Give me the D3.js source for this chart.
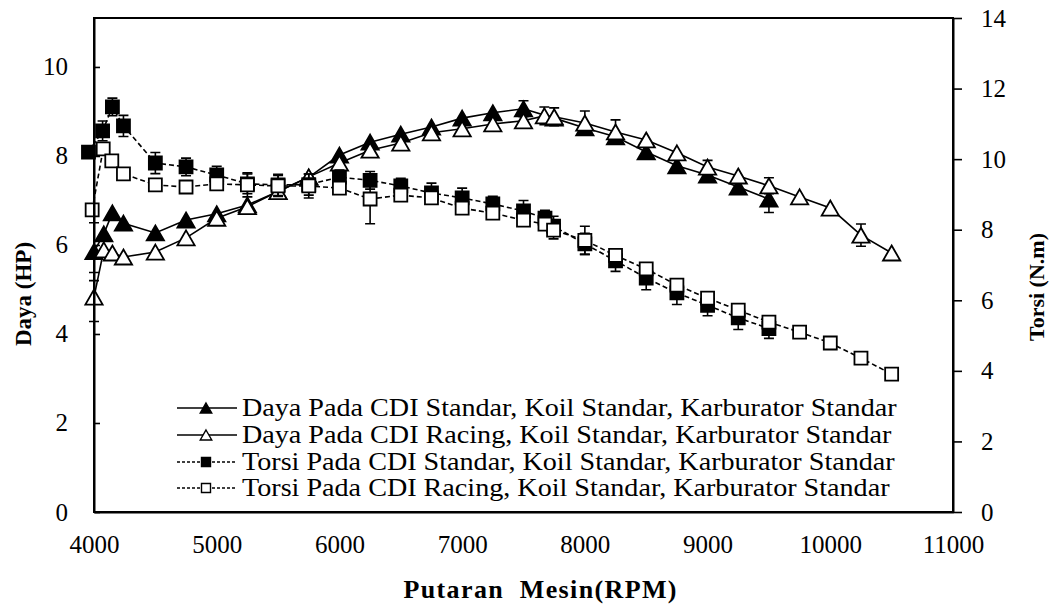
<!DOCTYPE html>
<html>
<head>
<meta charset="utf-8">
<script src="https://cdn.jsdelivr.net/npm/d3@7"></script>
<style>
  body { margin: 0; background: #fff; }
  text { font-family: "Liberation Serif", "Times New Roman", serif; fill: #000; }
</style>
</head>
<body>
<div id="chart"></div>
<script>
// Data
var xTicks = [4000, 5000, 6000, 7000, 8000, 9000, 10000, 11000]
var dayaTicks = [0, 2, 4, 6, 8, 10]
var torsiTicks = [0, 2, 4, 6, 8, 10, 12, 14]

// Daya - CDI standar (filled triangles), HP
var rpmDayaStd = [4000, 4080, 4150, 4240, 4500, 4750, 5000, 5250, 5500, 5750, 6000, 6250, 6500, 6750, 7000, 7250, 7500, 7750, 8000, 8250, 8500, 8750, 9000, 9250, 9500]
var dayaStd = [5.85, 6.25, 6.72, 6.49, 6.27, 6.56, 6.7, 6.9, 7.2, 7.52, 8.02, 8.31, 8.49, 8.65, 8.85, 8.97, 9.06, 8.85, 8.63, 8.43, 8.09, 7.78, 7.57, 7.3, 7.03]
var errDayaStd = [0.65, 0, 0, 0, 0, 0, 0, 0, 0, 0, 0, 0, 0, 0, 0, 0, 0.18, 0, 0, 0, 0, 0, 0, 0, 0.3]

// Daya - CDI racing (open triangles), HP
var rpmDayaRac = [4000, 4080, 4150, 4240, 4500, 4750, 5000, 5250, 5500, 5750, 6000, 6250, 6500, 6750, 7000, 7250, 7500, 7670, 7750, 8000, 8250, 8500, 8750, 9000, 9250, 9500, 9750, 10000, 10250, 10500]
var dayaRac = [4.83, 5.89, 5.82, 5.73, 5.84, 6.16, 6.6, 6.86, 7.2, 7.53, 7.84, 8.13, 8.29, 8.52, 8.61, 8.72, 8.79, 8.9, 8.88, 8.74, 8.54, 8.36, 8.07, 7.75, 7.55, 7.33, 7.08, 6.83, 6.22, 5.82]
var errDayaRac = [0.55, 0, 0, 0, 0, 0, 0, 0, 0, 0, 0, 0, 0, 0, 0, 0, 0, 0.2, 0.2, 0.27, 0.27, 0, 0, 0.15, 0, 0.18, 0, 0, 0.25, 0]

// Torsi - CDI standar (filled squares), N.m
var rpmTorsiStd = [3955, 4070, 4150, 4240, 4500, 4750, 5000, 5250, 5500, 5750, 6000, 6250, 6500, 6750, 7000, 7250, 7500, 7675, 7745, 8000, 8250, 8500, 8750, 9000, 9250, 9500]
var torsiStd = [10.2, 10.8, 11.48, 10.94, 9.89, 9.78, 9.55, 9.3, 9.27, 9.28, 9.49, 9.4, 9.24, 9.04, 8.9, 8.73, 8.53, 8.33, 8.1, 7.6, 7.12, 6.63, 6.21, 5.86, 5.5, 5.2]
var errTorsiStd = [0, 0.28, 0.25, 0.3, 0.3, 0.25, 0.25, 0.28, 0.3, 0.3, 0.2, 0.25, 0.22, 0.28, 0.28, 0.22, 0.3, 0.22, 0.28, 0.3, 0.3, 0.33, 0.33, 0.3, 0.33, 0.28]

// Torsi - CDI racing (open squares), N.m
var rpmTorsiRac = [3985, 4075, 4145, 4240, 4500, 4750, 5000, 5250, 5500, 5750, 6000, 6250, 6500, 6750, 7000, 7250, 7500, 7675, 7745, 8000, 8250, 8500, 8750, 9000, 9250, 9500, 9750, 10000, 10250, 10500]
var torsiRac = [8.56, 10.29, 9.95, 9.58, 9.27, 9.21, 9.3, 9.27, 9.24, 9.24, 9.18, 8.87, 8.98, 8.9, 8.61, 8.47, 8.27, 8.16, 7.99, 7.7, 7.27, 6.89, 6.43, 6.06, 5.72, 5.38, 5.1, 4.79, 4.36, 3.91]
var errTorsiRac = [0, 0, 0, 0, 0, 0, 0, 0.34, 0.3, 0.34, 0, 0.7, 0, 0, 0, 0, 0, 0, 0.25, 0.4, 0, 0, 0, 0, 0, 0, 0, 0, 0, 0]

var legendLabels = [
  'Daya Pada CDI Standar, Koil Standar, Karburator Standar',
  'Daya Pada CDI Racing, Koil Standar, Karburator Standar',
  'Torsi Pada CDI Standar, Koil Standar, Karburator Standar',
  'Torsi Pada CDI Racing, Koil Standar, Karburator Standar'
]

// Dimensions
var width = 1050
var height = 604
var margin = { top: 18, right: 97, bottom: 92, left: 94 }
var plotLeft = margin.left
var plotRight = width - margin.right
var plotTop = margin.top
var plotBottom = height - margin.bottom

// Scales
var x = d3.scaleLinear().domain([4000, 11000]).range([plotLeft, plotRight])
var yDaya = d3.scaleLinear().domain([0, 11.1]).range([plotBottom, plotTop])
var yTorsi = d3.scaleLinear().domain([0, 14]).range([plotBottom, plotTop])

var svg = d3.select('#chart').append('svg')
  .attr('width', width)
  .attr('height', height)

// Widen a text horizontally (the reference type is a little wide)
function stretch(sel, f) {
  sel.each(function () {
    var w = this.getComputedTextLength()
    this.setAttribute('textLength', w * f)
    this.setAttribute('lengthAdjust', 'spacingAndGlyphs')
  })
}

// Series definitions
var series = [
  { rpm: rpmDayaStd, v: dayaStd, e: errDayaStd, y: yDaya, shape: 'tri', fill: '#000', dash: null },
  { rpm: rpmDayaRac, v: dayaRac, e: errDayaRac, y: yDaya, shape: 'tri', fill: '#fff', dash: null },
  { rpm: rpmTorsiStd, v: torsiStd, e: errTorsiStd, y: yTorsi, shape: 'sq', fill: '#000', dash: '5,3' },
  { rpm: rpmTorsiRac, v: torsiRac, e: errTorsiRac, y: yTorsi, shape: 'sq', fill: '#fff', dash: '5,3' }
]

function markerPath(shape, cx, cy, s) {
  if (shape === 'tri') {
    var w = s * 1.15, h = s
    return 'M' + cx + ',' + (cy - h / 2) + 'L' + (cx + w / 2) + ',' + (cy + h / 2) +
      'L' + (cx - w / 2) + ',' + (cy + h / 2) + 'Z'
  }
  var a = s / 2
  return 'M' + (cx - a) + ',' + (cy - a) + 'h' + s + 'v' + s + 'h' + (-s) + 'Z'
}

var gData = svg.append('g').attr('class', 'data')

series.forEach(function (s) {
  var pts = s.rpm.map(function (r, i) { return { rpm: r, v: s.v[i], e: s.e[i] } })
  var g = gData.append('g')

  var line = d3.line()
    .x(function (d) { return x(d.rpm) })
    .y(function (d) { return s.y(d.v) })

  g.append('path')
    .datum(pts)
    .attr('d', line)
    .attr('fill', 'none')
    .attr('stroke', '#000')
    .attr('stroke-width', 1.6)
    .attr('stroke-dasharray', s.dash)

  // Error bars
  g.selectAll('.err').data(pts.filter(function (d) { return d.e > 0 }))
    .enter().append('path')
    .attr('class', 'err')
    .attr('fill', 'none')
    .attr('stroke', '#000')
    .attr('stroke-width', 1.6)
    .attr('d', function (d) {
      var cx = x(d.rpm), y0 = s.y(d.v - d.e), y1 = s.y(d.v + d.e)
      return 'M' + cx + ',' + y0 + 'V' + y1 +
        'M' + (cx - 5) + ',' + y0 + 'H' + (cx + 5) +
        'M' + (cx - 5) + ',' + y1 + 'H' + (cx + 5)
    })

  g.selectAll('.mk').data(pts)
    .enter().append('path')
    .attr('class', 'mk')
    .attr('d', function (d) { return markerPath(s.shape, x(d.rpm), s.y(d.v), s.shape === 'tri' ? 15 : 13) })
    .attr('fill', s.fill)
    .attr('stroke', '#000')
    .attr('stroke-width', 1.8)
})

// Plot frame
svg.append('rect')
  .attr('x', plotLeft)
  .attr('y', plotTop)
  .attr('width', plotRight - plotLeft)
  .attr('height', plotBottom - plotTop)
  .attr('fill', 'none')
  .attr('stroke', '#000')
  .attr('stroke-width', 2)

// Axes
var gx = svg.append('g')
  .attr('transform', 'translate(0,' + plotBottom + ')')
  .call(d3.axisBottom(x).tickValues(xTicks).tickSize(0).tickPadding(23).tickFormat(d3.format('d')))
var gl = svg.append('g')
  .attr('transform', 'translate(' + plotLeft + ',0)')
  .call(d3.axisLeft(yDaya).tickValues(dayaTicks).tickSizeInner(-6).tickSizeOuter(0).tickPadding(26))
var gr = svg.append('g')
  .attr('transform', 'translate(' + plotRight + ',0)')
  .call(d3.axisRight(yTorsi).tickValues(torsiTicks).tickSizeInner(9).tickSizeOuter(0).tickPadding(19))

;[gx, gl, gr].forEach(function (g) {
  g.select('.domain').attr('stroke', '#000').attr('stroke-width', 2)
  g.selectAll('.tick line').attr('stroke', '#000').attr('stroke-width', 1.6)
  g.selectAll('.tick text')
    .attr('font-family', '"Liberation Serif", "Times New Roman", serif')
    .attr('font-size', 25)
    .attr('fill', '#000')
})

// Axis titles
svg.append('text')
  .attr('x', 540)
  .attr('y', 598)
  .attr('text-anchor', 'middle')
  .attr('font-size', 26)
  .attr('font-weight', 'bold')
  .attr('textLength', 273)
  .attr('lengthAdjust', 'spacing')
  .style('white-space', 'pre')
  .text('Putaran  Mesin(RPM)')

svg.append('text')
  .attr('transform', 'translate(31,294) rotate(-90)')
  .attr('text-anchor', 'middle')
  .attr('font-size', 23)
  .attr('font-weight', 'bold')
  .text('Daya (HP)')

svg.append('text')
  .attr('transform', 'translate(1044,287) rotate(-90)')
  .attr('text-anchor', 'middle')
  .attr('font-size', 22)
  .attr('font-weight', 'bold')
  .text('Torsi (N.m)')

// Legend
var legendY = [408, 435, 462, 488]
var legend = svg.append('g').attr('class', 'legend')
series.forEach(function (s, i) {
  var row = legend.append('g').attr('transform', 'translate(0,' + legendY[i] + ')')
  row.append('line')
    .attr('x1', 177).attr('x2', 237)
    .attr('stroke', '#000')
    .attr('stroke-width', 1.6)
    .attr('stroke-dasharray', s.dash ? '3,2' : null)
  row.append('path')
    .attr('d', markerPath(s.shape, 206, 0, s.shape === 'tri' ? 10 : 9))
    .attr('fill', s.fill)
    .attr('stroke', '#000')
    .attr('stroke-width', 1.4)
  var t = row.append('text')
    .attr('x', 242)
    .attr('y', 8)
    .attr('font-size', 25)
    .text(legendLabels[i])
  stretch(t, 1.125)
})
</script>
</body>
</html>
